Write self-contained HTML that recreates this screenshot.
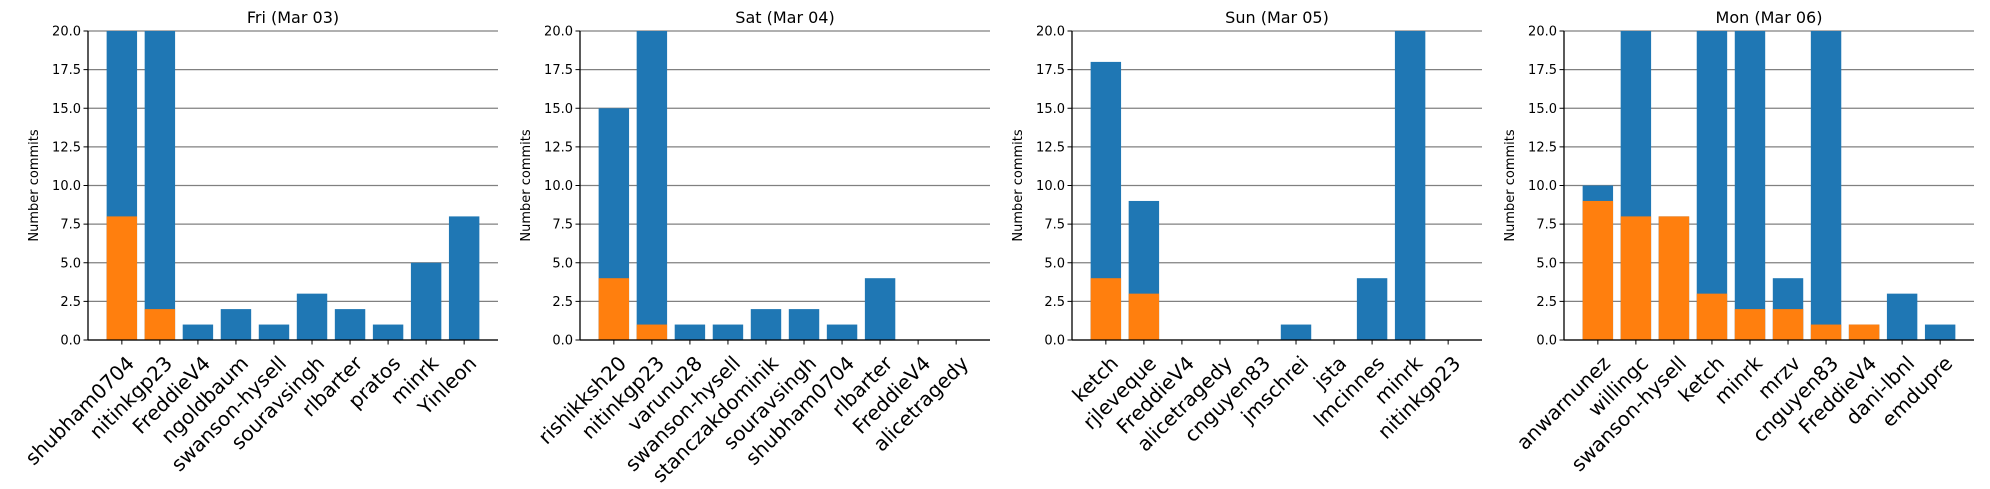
<!DOCTYPE html>
<html><head><meta charset="utf-8"><style>
body{margin:0;background:#fff}
svg{display:block;font-family:"DejaVu Sans","Liberation Sans",sans-serif}
</style></head><body>
<svg id="chart" width="1990" height="489" viewBox="0 0 1990 489" xmlns="http://www.w3.org/2000/svg"></svg>
<script>
const titles = ["Fri (Mar 03)","Sat (Mar 04)","Sun (Mar 05)","Mon (Mar 06)"];
const names0 = ["shubham0704","nitinkgp23","FreddieV4","ngoldbaum","swanson-hysell","souravsingh","rlbarter","pratos","minrk","Yinleon"];
const total0 = [25,25,1,2,1,3,2,1,5,8];
const orange0 = [8,2,0,0,0,0,0,0,0,0];
const names1 = ["rishikksh20","nitinkgp23","varunu28","swanson-hysell","stanczakdominik","souravsingh","shubham0704","rlbarter","FreddieV4","alicetragedy"];
const total1 = [15,25,1,1,2,2,1,4,0,0];
const orange1 = [4,1,0,0,0,0,0,0,0,0];
const names2 = ["ketch","rjleveque","FreddieV4","alicetragedy","cnguyen83","jmschrei","jsta","lmcinnes","minrk","nitinkgp23"];
const total2 = [18,9,0,0,0,1,0,4,25,0];
const orange2 = [4,3,0,0,0,0,0,0,0,0];
const names3 = ["anwarnunez","willingc","swanson-hysell","ketch","minrk","mrzv","cnguyen83","FreddieV4","dani-lbnl","emdupre"];
const total3 = [10,25,8,25,25,4,25,1,3,1];
const orange3 = [9,8,8,3,2,2,1,1,0,0];
const yTicks = [0,2.5,5,7.5,10,12.5,15,17.5,20];

const NS="http://www.w3.org/2000/svg";
const svg=document.getElementById('chart');
function mk(t,a,p){const e=document.createElementNS(NS,t);for(const k in a)e.setAttribute(k,a[k]);(p||svg).appendChild(e);return e;}
const panels=[[names0,total0,orange0],[names1,total1,orange1],[names2,total2,orange2],[names3,total3,orange3]];
const TOP=31,BOT=340,W=410,YMAX=20;
function ys(v){return BOT-(Math.min(v,YMAX)/YMAX)*(BOT-TOP);}
panels.forEach((p,pi)=>{
  const [names,tot,org]=p;
  const L=88+492*pi;
  const n=names.length;
  const lo=-0.4-0.05*(n-1+0.8), hi=n-1+0.4+0.05*(n-1+0.8);
  const xs=i=>L+(i-lo)/(hi-lo)*W;
  const bw=0.8/(hi-lo)*W;
  const g=mk('g',{});
  
  
  const t=mk('text',{x:L+W/2,y:23,'text-anchor':'middle','font-size':16,fill:'#000'},g);
  t.textContent=titles[pi];
  
  
  yTicks.forEach(v=>{
    const y=ys(v);
    const gl=mk('line',{x1:L,x2:L+W,y1:y,y2:y,stroke:'#808080','stroke-width':1.3},g);
    
    
    mk('line',{x1:L-4.5,x2:L,y1:y,y2:y,stroke:'#000','stroke-width':1},g);
    const tl=mk('text',{x:L-7,y:y+4.5,'text-anchor':'end','font-size':13,fill:'#000'},g);
    tl.textContent=v.toFixed(1);
    
    
  });
  const yl=mk('text',{transform:`translate(${L-50},${(TOP+BOT)/2}) rotate(-90)`,'text-anchor':'middle','font-size':13,fill:'#000'},g);
  yl.textContent='Number commits';
  
  
  names.forEach((nm,i)=>{
    const cx=xs(i);
    if(tot[i]>0){
      const b=mk('rect',{x:cx-bw/2,y:ys(tot[i]),width:bw,height:BOT-ys(tot[i]),fill:'#1f77b4'},g);
      
      
    }
    if(org[i]>0){
      const o=mk('rect',{x:cx-bw/2,y:ys(org[i]),width:bw,height:BOT-ys(org[i]),fill:'#ff7f0e'},g);
      
      
    }
    mk('line',{x1:cx,x2:cx,y1:BOT,y2:BOT+4.5,stroke:'#000','stroke-width':1},g);
    const xl=mk('text',{transform:`translate(${cx+3},${BOT+14}) rotate(-45)`,'text-anchor':'end','font-size':20,dy:'0.75em',fill:'#000'},g);
    xl.textContent=nm;
    
    
  });
  mk('line',{x1:L,x2:L,y1:TOP,y2:BOT,stroke:'#000','stroke-width':1.3},g);
  mk('line',{x1:L,x2:L+W,y1:BOT,y2:BOT,stroke:'#000','stroke-width':1.3},g);
});
</script>
</body></html>
